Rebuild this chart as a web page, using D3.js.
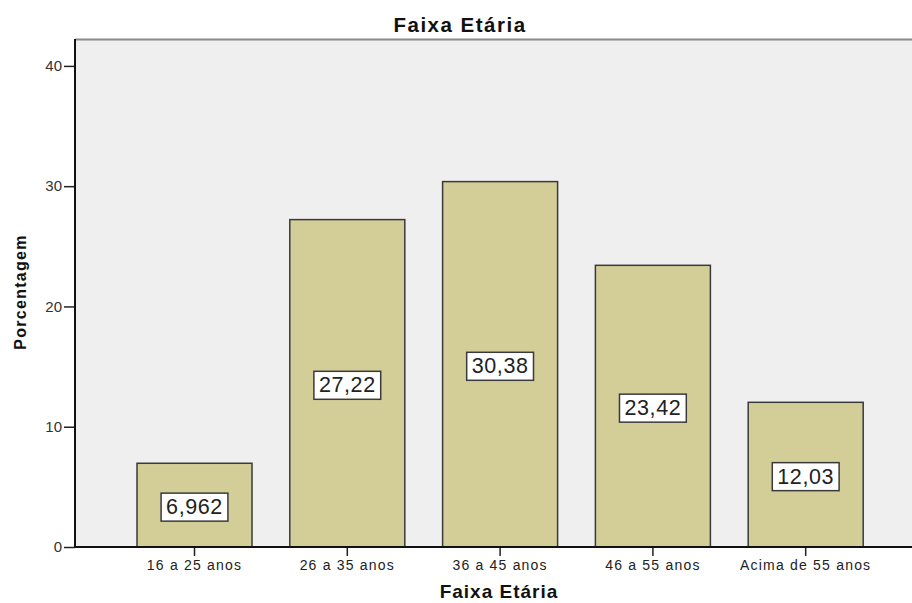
<!DOCTYPE html>
<html>
<head>
<meta charset="utf-8">
<script src="https://cdn.jsdelivr.net/npm/d3@7"></script>
<style>
  html, body { margin: 0; padding: 0; background: #fff; }
  svg { display: block; font-family: "Liberation Sans", Arial, sans-serif; }
</style>
</head>
<body>
<svg id="chart" width="912" height="603"></svg>
<script>
const categories = ["16 a 25 anos", "26 a 35 anos", "36 a 45 anos", "46 a 55 anos", "Acima de 55 anos"];
const percentages = [6.962, 27.22, 30.38, 23.42, 12.03];
const yTicks = [0, 10, 20, 30, 40];
const chartTitle = "Faixa Etária";
const xTitle = "Faixa Etária";
const yTitle = "Porcentagem";

const W = 912, H = 603;
const plot = { left: 75, top: 39, right: 912, bottom: 547 };

const svg = d3.select("#chart");

const x = d3.scaleBand()
  .domain(categories)
  .range([plot.left, 925.2])
  .paddingInner(0.2474)
  .paddingOuter(0.4058);

const y = d3.scaleLinear()
  .domain([0, 40])
  .range([plot.bottom, 65.9]);

// plot background
svg.append("rect")
  .attr("x", plot.left).attr("y", plot.top)
  .attr("width", plot.right - plot.left).attr("height", plot.bottom - plot.top)
  .attr("fill", "#efefef");

// top border
svg.append("line")
  .attr("x1", plot.left).attr("x2", plot.right)
  .attr("y1", plot.top + 0.5).attr("y2", plot.top + 0.5)
  .attr("stroke", "#8a8a8a").attr("stroke-width", 2);

// bars
const bars = svg.append("g");
bars.selectAll("rect")
  .data(categories)
  .join("rect")
  .attr("x", d => x(d))
  .attr("y", (d, i) => y(percentages[i]))
  .attr("width", x.bandwidth())
  .attr("height", (d, i) => y(0) - y(percentages[i]))
  .attr("fill", "#d3ce98")
  .attr("stroke", "#3a3a3a")
  .attr("stroke-width", 1.5);

// value labels
const labels = svg.append("g");
categories.forEach((c, i) => {
  const v = percentages[i];
  const cx = x(c) + x.bandwidth() / 2;
  const cy = (y(v) + y(0)) / 2 + 2;
  const txt = String(v).replace(".", ",");
  const g = labels.append("g");
  const t = g.append("text")
    .attr("x", cx).attr("y", cy)
    .attr("text-anchor", "middle")
    .attr("dominant-baseline", "central")
    .attr("font-size", 21.5)
    .attr("letter-spacing", 0.6)
    .attr("fill", "#222")
    .text(txt);
  const bb = t.node().getBBox();
  g.insert("rect", "text")
    .attr("x", cx - bb.width / 2 - 5)
    .attr("y", cy - 14)
    .attr("width", bb.width + 10)
    .attr("height", 28)
    .attr("fill", "#fff")
    .attr("stroke", "#3a3a3a")
    .attr("stroke-width", 1.5);
});

// y axis
const yAxis = svg.append("g")
  .attr("transform", `translate(${plot.left},0)`)
  .call(d3.axisLeft(y).tickValues(yTicks).tickSize(11).tickPadding(2).tickFormat(d3.format("d")));
yAxis.select(".domain").remove();
yAxis.selectAll(".tick line").attr("stroke", "#222").attr("stroke-width", 1.5);
yAxis.selectAll(".tick text")
  .attr("font-size", 15)
  .attr("font-family", "Liberation Sans, Arial, sans-serif")
  .attr("fill", "#333");
svg.append("line")
  .attr("x1", plot.left).attr("x2", plot.left)
  .attr("y1", plot.top).attr("y2", plot.bottom)
  .attr("stroke", "#111").attr("stroke-width", 2);

// x axis
const xAxis = svg.append("g")
  .attr("transform", `translate(0,${plot.bottom})`)
  .call(d3.axisBottom(x).tickSize(9).tickPadding(4).tickSizeOuter(0));
xAxis.select(".domain").remove();
xAxis.selectAll(".tick line").attr("stroke", "#222").attr("stroke-width", 1.5);
xAxis.selectAll(".tick text")
  .attr("font-size", 14)
  .attr("letter-spacing", 1.2)
  .attr("font-family", "Liberation Sans, Arial, sans-serif")
  .attr("fill", "#222");
svg.append("line")
  .attr("x1", plot.left).attr("x2", plot.right)
  .attr("y1", plot.bottom).attr("y2", plot.bottom)
  .attr("stroke", "#111").attr("stroke-width", 2);

// titles
svg.append("text")
  .attr("x", 460).attr("y", 32)
  .attr("text-anchor", "middle")
  .attr("font-size", 20.5).attr("font-weight", "bold")
  .attr("letter-spacing", 1.5)
  .attr("fill", "#111")
  .text(chartTitle);

svg.append("text")
  .attr("x", 499).attr("y", 598)
  .attr("text-anchor", "middle")
  .attr("font-size", 19).attr("font-weight", "bold")
  .attr("letter-spacing", 1)
  .attr("fill", "#111")
  .text(xTitle);

svg.append("text")
  .attr("transform", "translate(26,292) rotate(-90)")
  .attr("text-anchor", "middle")
  .attr("font-size", 16).attr("font-weight", "bold")
  .attr("letter-spacing", 1.3)
  .attr("fill", "#111")
  .text(yTitle);
</script>
</body>
</html>
